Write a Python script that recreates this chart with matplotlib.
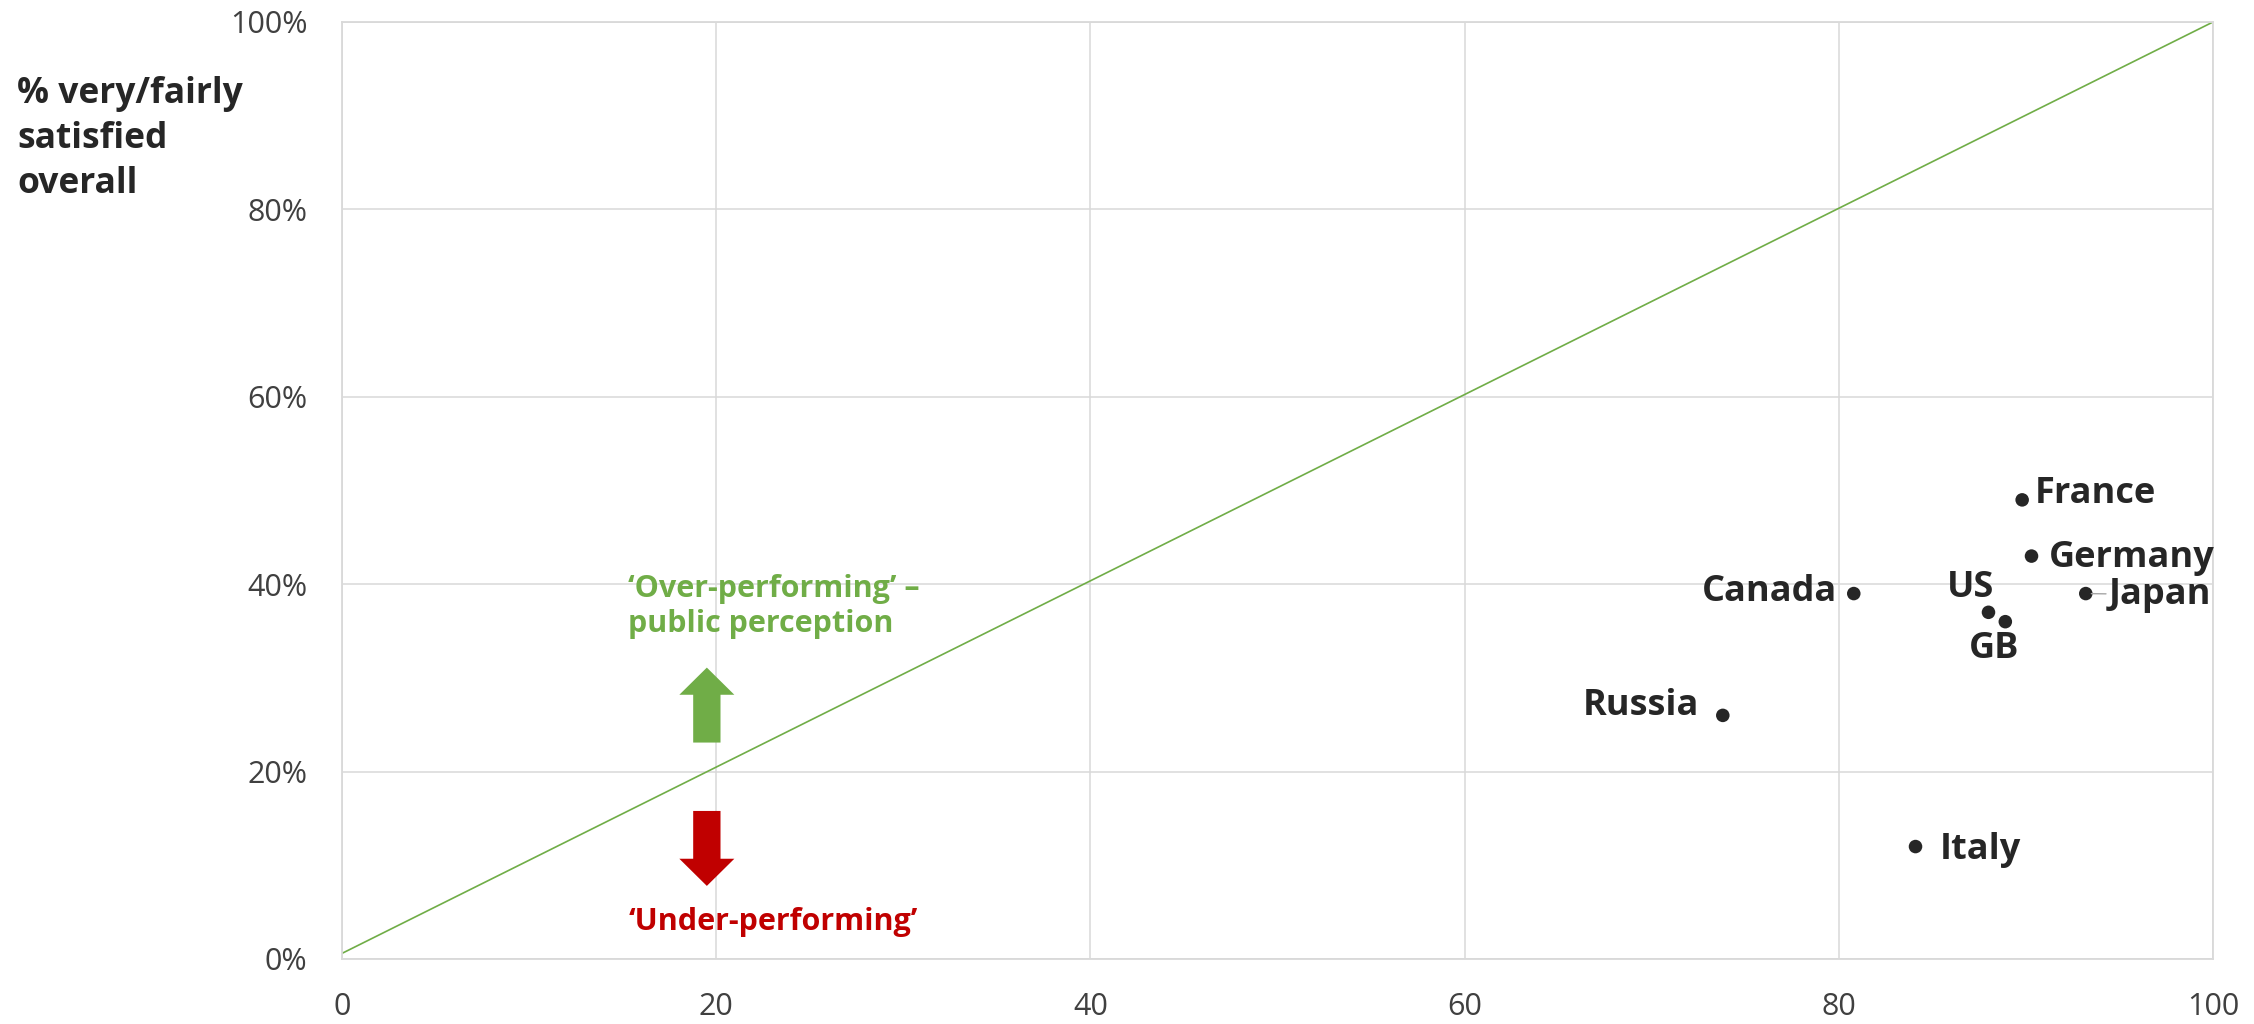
import matplotlib
matplotlib.use("Agg")
import matplotlib.pyplot as plt
from matplotlib.patches import FancyArrow
from matplotlib.ticker import FuncFormatter

plt.rcParams["font.family"] = ["Open Sans", "DejaVu Sans"]

countries = ["France", "Germany", "Japan", "Canada", "US", "GB", "Russia", "Italy"]
x_vals = [89.8, 90.3, 93.2, 80.8, 88.0, 88.9, 73.8, 84.1]
y_vals = [49.0, 43.0, 39.0, 39.0, 37.0, 36.0, 26.0, 12.0]
# label offsets in pixels (dx, dy) and alignment
label_off = {
    "France": (13, 6, "left"),
    "Germany": (17, -2, "left"),
    "Japan": (23, -1, "left"),
    "Canada": (-17, 2, "right"),
    "US": (-18, 24, "center"),
    "GB": (-11, -27, "center"),
    "Russia": (-24, 9, "right"),
    "Italy": (24, -3, "left"),
}

diag_x = [0, 100]
diag_y = [0.6, 100]

W, H = 2254, 1024
fig = plt.figure(figsize=(W / 100, H / 100), dpi=100)
ax = fig.add_axes([342 / W, 1 - 959 / H, (2213 - 342) / W, (959 - 22) / H])

grid_c = "#D9D9D9"
ax.set_xlim(0, 100)
ax.set_ylim(0, 100)
ax.set_xticks(range(0, 101, 20))
ax.set_yticks(range(0, 101, 20))
ax.yaxis.set_major_formatter(FuncFormatter(lambda v, p: f"{v:.0f}%"))
ax.grid(True, color=grid_c, linewidth=1.1)
ax.set_axisbelow(True)
for s in ax.spines.values():
    s.set_color(grid_c)
    s.set_linewidth(1.3)
ax.tick_params(length=0, labelsize=22, labelcolor="#404040")
ax.tick_params(axis="y", pad=25)
ax.tick_params(axis="x", pad=24)

ax.plot(diag_x, diag_y, color="#70AD47", linewidth=1.2, zorder=2)

ax.scatter(x_vals, y_vals, s=95, color="#262626", zorder=3, edgecolors="none")

for name, xv, yv in zip(countries, x_vals, y_vals):
    dx, dy, ha = label_off[name]
    if name == "Japan":
        ax.annotate(name, (xv, yv), xytext=(dx * 0.72, dy * 0.72), textcoords="offset points",
                    ha=ha, va="center", fontsize=26, fontweight="bold", color="#262626",
                    arrowprops=dict(arrowstyle="-", color="#A6A6A6", lw=1, shrinkA=0, shrinkB=4))
    else:
        ax.annotate(name, (xv, yv), xytext=(dx * 0.72, dy * 0.72), textcoords="offset points",
                    ha=ha, va="center", fontsize=26, fontweight="bold", color="#262626")

# performance annotations
ax.text(15.3, 37.6, "\u2018Over-performing\u2019 \u2013\npublic perception", color="#70AD47",
        fontsize=22, fontweight="bold", ha="left", va="center", linespacing=1.2)
ax.text(15.3, 4.0, "\u2018Under-performing\u2019", color="#C00000",
        fontsize=22, fontweight="bold", ha="left", va="center")
ax.add_patch(FancyArrow(19.5, 23.1, 0, 8.0, width=1.46, head_width=2.94, head_length=2.9,
                        length_includes_head=True, color="#70AD47", linewidth=0, zorder=4))
ax.add_patch(FancyArrow(19.5, 15.8, 0, -8.0, width=1.46, head_width=2.94, head_length=2.9,
                        length_includes_head=True, color="#C00000", linewidth=0, zorder=4))

fig.text(17 / W, 1 - 76 / H, "% very/fairly\nsatisfied\noverall", fontsize=25.5, fontweight="bold",
         color="#262626", ha="left", va="top", linespacing=1.34)

fig.savefig("out.png", dpi=100)
